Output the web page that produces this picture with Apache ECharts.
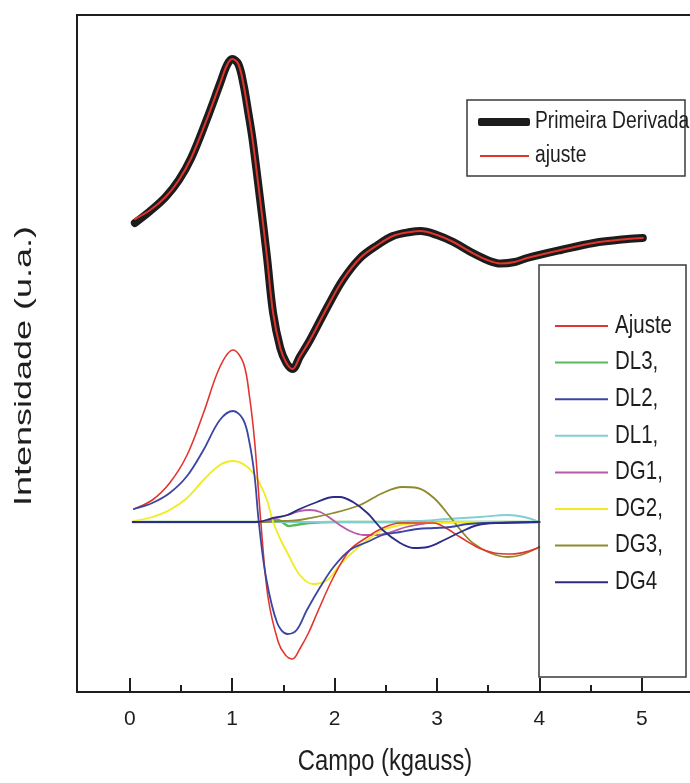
<!DOCTYPE html>
<html>
<head>
<meta charset="utf-8">
<script src="https://cdn.jsdelivr.net/npm/echarts@6/dist/echarts.min.js"></script>
<style>
  html, body { margin: 0; padding: 0; background: #ffffff; }
  #chart { width: 690px; height: 783px; }
</style>
</head>
<body>
<div id="chart"></div>
<script>
// ---- axis ticks (field in kgauss) ----
const xMajorTicks = [0, 1, 2, 3, 4, 5];
const xMinorTicks = [0.5, 1.5, 2.5, 3.5, 4.5, 5.5];

// ---- first-derivative EPR spectrum (upper trace) ----
const derivX = [0.05,0.20,0.35,0.48,0.60,0.75,0.88,0.95,1.00,1.06,1.11,1.16,1.20,1.27,1.34,1.40,1.47,1.53,1.59,1.66,1.76,1.93,2.08,2.25,2.42,2.57,2.74,2.84,3.00,3.16,3.33,3.49,3.62,3.76,3.88,4.21,4.53,4.86,5.01];
const derivY = [2.99,3.11,3.25,3.42,3.64,4.02,4.38,4.57,4.63,4.58,4.38,4.08,3.82,3.25,2.65,2.09,1.74,1.59,1.53,1.65,1.82,2.15,2.42,2.64,2.77,2.86,2.90,2.91,2.87,2.80,2.70,2.62,2.585,2.60,2.64,2.72,2.79,2.83,2.84];
// fitted curve over the spectrum
const fitY   = [3.03,3.12,3.25,3.42,3.64,4.02,4.38,4.57,4.63,4.58,4.38,4.08,3.82,3.25,2.65,2.09,1.74,1.59,1.53,1.65,1.82,2.15,2.42,2.64,2.77,2.86,2.90,2.91,2.87,2.80,2.70,2.62,2.585,2.60,2.64,2.72,2.79,2.83,2.84];

// ---- decomposition (lower traces) ----
const ajusteX = [0.04,0.22,0.39,0.56,0.72,0.88,1.01,1.11,1.17,1.22,1.28,1.35,1.45,1.52,1.59,1.66,1.75,1.83,1.99,2.15,2.32,2.47,2.64,2.81,2.97,3.07,3.24,3.41,3.56,3.73,3.90,4.00];
const ajusteY = [0.13,0.22,0.39,0.67,1.09,1.55,1.72,1.59,1.25,0.80,0.00,-0.75,-1.20,-1.33,-1.37,-1.27,-1.10,-0.91,-0.55,-0.28,-0.15,-0.06,-0.01,-0.01,-0.01,-0.05,-0.16,-0.26,-0.31,-0.32,-0.29,-0.25];

const dl3X = [0.03,1.20,1.45,1.50,1.55,1.62,1.75,2.00,4.00];
const dl3Y = [0,0,0.02,-0.01,-0.04,-0.03,-0.01,0,0];

const dl2X = [0.04,0.22,0.39,0.56,0.72,0.88,1.01,1.11,1.17,1.22,1.26,1.33,1.44,1.54,1.63,1.73,1.86,1.99,2.15,2.32,2.47,2.64,2.81,2.97,3.13,3.30,3.46,4.00];
const dl2Y = [0.13,0.19,0.29,0.46,0.72,1.02,1.11,1.02,0.79,0.45,0.00,-0.55,-1.01,-1.12,-1.08,-0.88,-0.65,-0.45,-0.28,-0.20,-0.13,-0.10,-0.07,-0.06,-0.05,-0.02,-0.01,0.00];

const dl1X = [0.03,2.45,2.80,3.10,3.42,3.69,3.85,4.00];
const dl1Y = [0,0,0.01,0.03,0.05,0.07,0.05,0.00];

const dg1X = [0.03,1.25,1.40,1.54,1.66,1.76,1.86,1.97,2.05,2.15,2.28,2.42,2.55,2.70,2.85,3.00,4.00];
const dg1Y = [0,0,0.03,0.07,0.11,0.12,0.10,0.03,-0.03,-0.09,-0.13,-0.13,-0.10,-0.05,-0.02,0,0];

const dg2X = [0.04,0.22,0.39,0.56,0.72,0.88,1.01,1.15,1.25,1.34,1.40,1.47,1.54,1.66,1.79,1.93,2.05,2.18,2.32,2.47,2.64,2.81,3.30,4.00];
const dg2Y = [0.01,0.05,0.12,0.24,0.42,0.57,0.61,0.55,0.42,0.22,0.00,-0.17,-0.31,-0.53,-0.62,-0.58,-0.43,-0.30,-0.18,-0.08,-0.03,-0.01,0.00,0.00];

const dg3X = [0.03,1.30,1.50,1.66,1.99,2.25,2.47,2.66,2.81,2.97,3.13,3.23,3.35,3.52,3.69,3.82,4.00];
const dg3Y = [0,0,0.01,0.02,0.09,0.17,0.29,0.35,0.34,0.24,0.05,-0.08,-0.21,-0.31,-0.35,-0.33,-0.25];

const dg4X = [0.03,1.24,1.40,1.54,1.66,1.83,1.99,2.05,2.18,2.32,2.47,2.64,2.77,2.91,3.07,3.23,3.40,3.62,4.00];
const dg4Y = [0,0,0.04,0.07,0.13,0.20,0.25,0.25,0.20,0.09,-0.08,-0.21,-0.26,-0.25,-0.18,-0.10,-0.03,-0.01,0];

// legend entries of the decomposition box, top to bottom
const lowerNames  = ['Ajuste', 'DL3', 'DL2', 'DL1', 'DG1', 'DG2', 'DG3', 'DG4'];
const lowerLabels = ['Ajuste', 'DL3,', 'DL2,', 'DL1,', 'DG1,', 'DG2,', 'DG3,', 'DG4'];

const SANS = "'Liberation Sans', Arial, sans-serif";
const INK = '#1e1e1e';
const NARROW_SCALE = 0.82;   // condensed lettering for labels

function pairs(xs, ys) { return xs.map((x, i) => [x, ys[i]]); }

function trace(name, xs, ys, color, width) {
  return {
    name: name,
    type: 'line',
    data: pairs(xs, ys),
    symbol: 'none',
    showSymbol: false,
    smooth: 0.35,
    silent: true,
    animation: false,
    lineStyle: { color: color, width: width, cap: 'round', join: 'round' },
    itemStyle: { color: color }
  };
}

// condensed text label
function label(text, x, y, size, align) {
  return {
    type: 'text', z: 100, silent: true,
    x: x, y: y, scaleX: NARROW_SCALE,
    style: { text: text, fill: INK, font: size + 'px ' + SANS,
             textAlign: align || 'left', textVerticalAlign: 'middle' }
  };
}

const upperLegendTop = 122, lowerLegendTop = 326, lowerLegendStep = 36.6;

const graphics = [
  { type: 'rect', z: 100, silent: true,
    shape: { x: 467, y: 100, width: 218, height: 76 },
    style: { fill: 'none', stroke: '#3a3a3a', lineWidth: 1.5 } },
  { type: 'rect', z: 100, silent: true,
    shape: { x: 539, y: 265, width: 147, height: 412 },
    style: { fill: 'none', stroke: '#3a3a3a', lineWidth: 1.5 } },
  { type: 'text', z: 100, silent: true,
    x: 24, y: 366, rotation: Math.PI / 2, scaleX: 1.5,
    style: { text: 'Intensidade (u.a.)', fill: INK, font: '24px ' + SANS,
             textAlign: 'center', textVerticalAlign: 'middle' } },
  label('Campo (kgauss)', 385, 762, 29, 'center'),
  label('Primeira Derivada', 535, upperLegendTop, 23.5),
  label('ajuste', 535, upperLegendTop + 34, 23.5)
].concat(lowerLabels.map((t, i) => label(t, 615, lowerLegendTop + i * lowerLegendStep, 25)));

const chart = echarts.init(document.getElementById('chart'), null, { renderer: 'canvas' });

chart.setOption({
  backgroundColor: '#ffffff',
  animation: false,
  grid: {
    left: 77, top: 15, width: 616, height: 677,
    outerBoundsMode: 'none', containLabel: false,
    show: true, borderColor: INK, borderWidth: 2, backgroundColor: 'transparent'
  },
  xAxis: [
    {
      type: 'value', min: -0.515, max: 5.5, position: 'bottom',
      axisLine: { show: true, onZero: false, lineStyle: { color: INK, width: 2 } },
      axisTick: { show: true, inside: true, length: 14, customValues: xMajorTicks, lineStyle: { color: INK, width: 2 } },
      axisLabel: { show: true, customValues: xMajorTicks, margin: 17, color: INK, fontSize: 21, fontFamily: SANS },
      splitLine: { show: false }
    },
    {
      type: 'value', min: -0.515, max: 5.5, position: 'bottom', gridIndex: 0, offset: 0,
      axisLine: { show: false, onZero: false },
      axisTick: { show: true, inside: true, length: 7, customValues: xMinorTicks, lineStyle: { color: INK, width: 2 } },
      axisLabel: { show: false },
      splitLine: { show: false }
    }
  ],
  yAxis: {
    type: 'value', min: -1.70, max: 5.07,
    axisLine: { show: true, onZero: false, lineStyle: { color: INK, width: 2 } },
    axisTick: { show: false },
    axisLabel: { show: false },
    splitLine: { show: false }
  },
  legend: [
    {
      data: [{ name: 'Primeira Derivada', icon: 'roundRect' }],
      left: 478, top: upperLegendTop - 4, padding: 0, itemWidth: 52, itemHeight: 8,
      selectedMode: false, formatter: () => '',
      itemStyle: { borderWidth: 0 }
    },
    {
      data: [{ name: 'ajuste', icon: 'rect' }],
      left: 480, top: upperLegendTop + 33, padding: 0, itemWidth: 49, itemHeight: 2,
      selectedMode: false, formatter: () => '',
      itemStyle: { borderWidth: 0 }
    },
    {
      data: lowerNames.map(n => ({ name: n, icon: 'rect' })),
      orient: 'vertical', left: 555, top: lowerLegendTop - 1, padding: 0,
      itemWidth: 53, itemHeight: 2, itemGap: lowerLegendStep - 2,
      selectedMode: false, formatter: () => '',
      itemStyle: { borderWidth: 0 },
      textStyle: { fontSize: 1, lineHeight: 2 }
    }
  ],
  graphic: graphics,
  series: [
    trace('Primeira Derivada', derivX, derivY, '#1c1c1c', 8),
    trace('ajuste', derivX, fitY, '#e0342e', 2),
    trace('DL3', dl3X, dl3Y, '#5cb85a', 2.4),
    trace('DL1', dl1X, dl1Y, '#7fcfd3', 1.8),
    trace('DG1', dg1X, dg1Y, '#b85aa8', 1.8),
    trace('DG3', dg3X, dg3Y, '#8f8a2c', 1.8),
    trace('DG2', dg2X, dg2Y, '#f0ec22', 1.8),
    trace('Ajuste', ajusteX, ajusteY, '#e3352f', 1.6),
    trace('DL2', dl2X, dl2Y, '#3c46a0', 1.8),
    trace('DG4', dg4X, dg4Y, '#2b2c86', 1.8)
  ]
});
</script>
</body>
</html>
